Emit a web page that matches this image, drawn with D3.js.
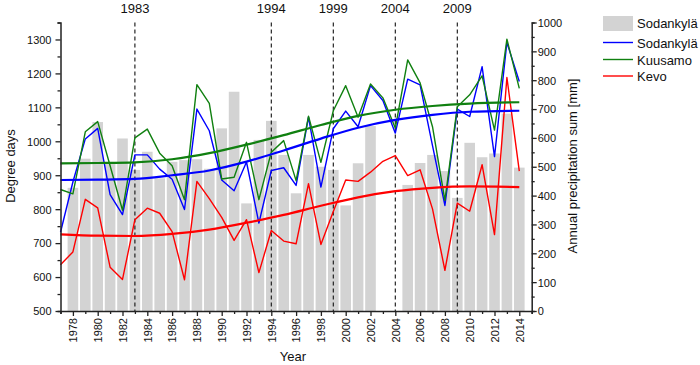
<!DOCTYPE html>
<html>
<head>
<meta charset="utf-8">
<script src="https://cdn.jsdelivr.net/npm/d3@7"></script>
<style>
  html, body { margin: 0; padding: 0; background: #fff; }
  svg { display: block; font-family: "Liberation Sans", Arial, sans-serif; }
</style>
</head>
<body>
<svg id="chart" width="700" height="365"></svg>
<script>
// ---- data ----
const years = d3.range(1977, 2015);
const sodankylaDD = [732, 880, 1007, 1038, 843, 784, 960, 960, 918, 888, 799, 1095, 1031, 886, 854, 939, 759, 914, 922, 870, 1071, 865, 1037, 1089, 1043, 1164, 1120, 1024, 1183, 1166, 987, 811, 1095, 1073, 1220, 955, 1291, 1176];
const kuusamoDD = [858, 845, 1028, 1058, 928, 797, 1010, 1036, 965, 928, 828, 1167, 1112, 889, 894, 997, 828, 968, 1002, 884, 1074, 938, 1090, 1164, 1071, 1169, 1128, 1039, 1240, 1172, 1043, 826, 1102, 1137, 1193, 1033, 1301, 1156];
const kevoDD = [636, 674, 829, 804, 629, 593, 769, 803, 788, 734, 592, 882, 831, 776, 708, 769, 613, 737, 706, 698, 875, 696, 793, 886, 882, 909, 941, 958, 899, 916, 801, 620, 818, 794, 931, 725, 1188, 912];
const sodankylaPrecip = [null, 427, 528, 655, 513, 598, 489, 552, 460, 517, 523, 526, 493, 633, 760, 373, 593, 659, 541, 408, 541, 500, 489, 366, 512, 641, null, null, 437, 513, 541, 485, 392, 583, 533, 546, 684, 497];

const trendYears = [1977, 1980, 1983, 1986, 1989, 1992, 1995, 1998, 2001, 2004, 2007, 2010, 2014];
const sodankylaTrend = [886, 887, 889, 900, 914, 940, 973, 1008, 1040, 1063, 1078, 1087, 1090];
const kuusamoTrend = [935, 936, 938, 947, 965, 990, 1018, 1048, 1075, 1093, 1104, 1111, 1115];
const kevoTrend = [726, 722, 721, 727, 740, 760, 783, 810, 835, 853, 863, 867, 865];

const markerYears = [1983, 1994, 1999, 2004, 2009];
const leftTicks = [500, 600, 700, 800, 900, 1000, 1100, 1200, 1300];
const rightTicks = [0, 100, 200, 300, 400, 500, 600, 700, 800, 900, 1000];
const labelYears = d3.range(1978, 2015, 2);

const seriesNames = ["Sodankylä", "Sodankylä", "Kuusamo", "Kevo"];
const colors = { blue: "#0000ff", green: "#108010", red: "#ff0000", bar: "#d3d3d3" };

// ---- scales ----
const svg = d3.select("#chart");
const x = d3.scaleLinear().domain([1977, 2015]).range([60.5, 531.7]);
const yL = d3.scaleLinear().domain([500, 1350]).range([311, 22.5]);
const yR = d3.scaleLinear().domain([0, 1000]).range([311, 22.5]);
const axisColor = "#222";
const fontTick = 11;

// ---- bars ----
const barW = 10.6;
svg.append("g").selectAll("rect")
  .data(years.map((yr, i) => ({ yr, v: sodankylaPrecip[i] })).filter(d => d.v !== null))
  .join("rect")
  .attr("x", d => x(d.yr) - barW / 2)
  .attr("y", d => yR(d.v))
  .attr("width", barW)
  .attr("height", d => yR(0) - yR(d.v))
  .attr("fill", colors.bar);

// ---- dashed markers ----
const mg = svg.append("g");
mg.selectAll("line").data(markerYears).join("line")
  .attr("x1", d => x(d)).attr("x2", d => x(d))
  .attr("y1", yL.range()[1]).attr("y2", yL.range()[0])
  .attr("stroke", "#111").attr("stroke-width", 1.1)
  .attr("stroke-dasharray", "4,3");
mg.selectAll("text").data(markerYears).join("text")
  .attr("x", d => x(d)).attr("y", 13)
  .attr("text-anchor", "middle")
  .attr("font-size", 13).attr("fill", "#111")
  .text(d => d);

// ---- lines ----
const line = d3.line().x(d => x(d[0])).y(d => yL(d[1]));
function drawLine(vals, yrs, color, w, curve) {
  const l = d3.line().x(d => x(d[0])).y(d => yL(d[1])).curve(curve || d3.curveLinear);
  svg.append("path")
    .datum(yrs.map((yr, i) => [yr, vals[i]]))
    .attr("d", l)
    .attr("fill", "none")
    .attr("stroke", color)
    .attr("stroke-width", w)
    .attr("stroke-linejoin", "round");
}
drawLine(sodankylaDD, years, colors.blue, 1.4);
drawLine(kuusamoDD, years, colors.green, 1.4);
drawLine(kevoDD, years, colors.red, 1.4);
drawLine(kuusamoTrend, trendYears, colors.green, 2.2, d3.curveMonotoneX);
drawLine(sodankylaTrend, trendYears, colors.blue, 2.2, d3.curveMonotoneX);
drawLine(kevoTrend, trendYears, colors.red, 2.2, d3.curveMonotoneX);

// ---- axes ----
function styleAxis(g) {
  g.selectAll(".domain").attr("stroke", axisColor).attr("stroke-width", 1.5);
  g.selectAll(".tick line").attr("stroke", axisColor).attr("stroke-width", 1.3);
  g.selectAll("text").attr("fill", "#111").attr("font-size", fontTick)
    .attr("font-family", "'Liberation Sans', Arial, sans-serif");
}
// left
const gl = svg.append("g").attr("transform", `translate(${x(1977)},0)`);
gl.call(d3.axisLeft(yL).tickValues(d3.range(500, 1351, 50)).tickSizeOuter(0)
  .tickSize(3).tickFormat(() => ""));
gl.call(g => g.selectAll(".tick").filter(d => d % 100 === 0).select("line").attr("x2", -5));
styleAxis(gl);
gl.selectAll(".tick").filter(d => d % 100 === 0 && d <= 1300)
  .append("text").attr("x", -9).attr("dy", "0.35em").attr("text-anchor", "end")
  .attr("fill", "#111").attr("font-size", fontTick).text(d => d);

// right
const gr = svg.append("g").attr("transform", `translate(${x(2015)},0)`);
gr.call(d3.axisRight(yR).tickValues(d3.range(0, 1001, 50)).tickSizeOuter(0)
  .tickSize(3).tickFormat(() => ""));
gr.call(g => g.selectAll(".tick").filter(d => d % 100 === 0).select("line").attr("x2", 5));
styleAxis(gr);
gr.selectAll(".tick").filter(d => rightTicks.includes(d))
  .append("text").attr("x", 6).attr("dy", "0.35em").attr("text-anchor", "start")
  .attr("fill", "#111").attr("font-size", fontTick).text(d => d);

// bottom
const gb = svg.append("g").attr("transform", `translate(0,${yL(500)})`);
gb.call(d3.axisBottom(x).tickValues(d3.range(1977, 2016)).tickSizeOuter(0)
  .tickSize(3).tickFormat(() => ""));
gb.call(g => g.selectAll(".tick").filter(d => d % 2 === 0).select("line").attr("y2", 5));
styleAxis(gb);
gb.selectAll(".tick").filter(d => labelYears.includes(d))
  .append("text")
  .attr("transform", "rotate(-90)")
  .attr("x", -7).attr("y", 0).attr("dy", "0.35em")
  .attr("text-anchor", "end")
  .attr("fill", "#111").attr("font-size", fontTick)
  .text(d => d);

// axis titles
svg.append("text").attr("transform", "translate(15,166) rotate(-90)")
  .attr("text-anchor", "middle").attr("font-size", 13).attr("fill", "#111").text("Degree days");
svg.append("text").attr("transform", "translate(577,166) rotate(-90)")
  .attr("text-anchor", "middle").attr("font-size", 13).attr("fill", "#111").text("Annual precipitation sum [mm]");
svg.append("text").attr("x", 293).attr("y", 361)
  .attr("text-anchor", "middle").attr("font-size", 13).attr("fill", "#111").text("Year");

// ---- legend ----
const lg = svg.append("g");
lg.append("rect").attr("x", 603).attr("y", 16).attr("width", 30).attr("height", 15).attr("fill", colors.bar);
const legendLines = [
  { y: 42.5, c: colors.blue, name: seriesNames[1] },
  { y: 59.5, c: colors.green, name: seriesNames[2] },
  { y: 76, c: colors.red, name: seriesNames[3] }
];
lg.append("text").attr("x", 637).attr("y", 28).attr("font-size", 13).attr("fill", "#111").text(seriesNames[0]);
legendLines.forEach(d => {
  lg.append("line").attr("x1", 603).attr("x2", 633).attr("y1", d.y).attr("y2", d.y)
    .attr("stroke", d.c).attr("stroke-width", 1.4);
  lg.append("text").attr("x", 637).attr("y", d.y + 5).attr("font-size", 13).attr("fill", "#111").text(d.name);
});
</script>
</body>
</html>
